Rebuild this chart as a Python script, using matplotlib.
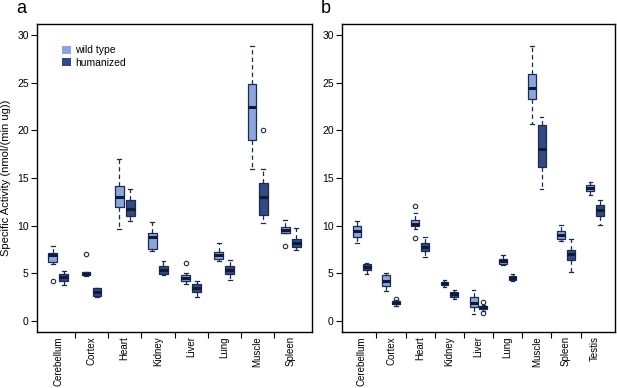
import matplotlib
matplotlib.use("Agg")
import matplotlib.pyplot as plt
from matplotlib.patches import Patch

plt.rcParams["font.family"] = ["Liberation Sans", "DejaVu Sans"]

# box stats: [whisker low, q1, median, q3, whisker high]
tissues_a = ["Cerebellum", "Cortex", "Heart", "Kidney", "Liver", "Lung", "Muscle", "Spleen"]
wild_a = [
    [6.0, 6.12, 6.9, 7.15, 7.8],
    [4.7, 4.75, 4.95, 5.1, 5.15],
    [9.6, 11.9, 13.0, 14.2, 16.95],
    [7.3, 7.5, 8.75, 9.2, 10.35],
    [3.9, 4.2, 4.47, 4.75, 5.0],
    [6.27, 6.44, 6.86, 7.22, 8.15],
    [15.95, 19.0, 22.5, 24.9, 28.9],
    [9.2, 9.26, 9.57, 9.85, 10.55],
]
wild_a_out = [[4.15], [7.0], [], [], [6.1], [], [], [7.8]]
human_a = [
    [3.7, 4.15, 4.58, 4.93, 5.17],
    [2.5, 2.57, 2.98, 3.41, 3.45],
    [10.5, 11.0, 11.76, 12.64, 13.8],
    [4.75, 4.93, 5.35, 5.77, 6.27],
    [2.5, 3.0, 3.48, 3.87, 4.15],
    [4.3, 4.86, 5.35, 5.7, 6.34],
    [10.3, 11.1, 13.0, 14.5, 15.95],
    [7.4, 7.74, 8.2, 8.62, 9.75],
]
human_a_out = [[], [], [], [], [], [], [20.0], []]

tissues_b = ["Cerebellum", "Cortex", "Heart", "Kidney", "Liver", "Lung", "Muscle", "Spleen", "Testis"]
wild_b = [
    [8.17, 8.82, 9.4, 9.98, 10.5],
    [3.13, 3.59, 4.19, 4.82, 5.03],
    [9.68, 9.9, 10.2, 10.56, 11.27],
    [3.55, 3.73, 3.94, 4.08, 4.22],
    [0.71, 1.45, 1.9, 2.46, 3.17],
    [5.8, 5.98, 6.27, 6.51, 6.94],
    [20.73, 23.3, 24.5, 25.98, 28.86],
    [8.38, 8.55, 8.98, 9.4, 10.07],
    [13.23, 13.59, 13.97, 14.29, 14.54],
]
wild_b_out = [[], [], [12.04, 8.73], [], [], [], [], [], []]
human_b = [
    [4.93, 5.31, 5.63, 5.95, 6.09],
    [1.51, 1.72, 1.9, 2.04, 2.18],
    [6.69, 7.32, 7.78, 8.2, 8.8],
    [2.25, 2.53, 2.82, 3.03, 3.2],
    [1.06, 1.23, 1.41, 1.55, 1.69],
    [4.12, 4.3, 4.5, 4.72, 4.93],
    [13.83, 16.12, 18.06, 20.56, 21.4],
    [5.1, 6.41, 6.97, 7.39, 8.55],
    [10.1, 11.01, 11.62, 12.14, 12.67],
]
human_b_out = [[], [2.32], [], [], [1.94, 0.84], [], [], [], []]

LIGHT = "#8ca5db"
DARK = "#34497f"
EDGE = "#1c2a4f"
MEDIAN = "#0d1a38"
FS = 7


def to_stats(values, outliers):

    stats = []

    for v, out in zip(values, outliers):
        stats.append({
            "whislo": v[0],
            "q1": v[1],
            "med": v[2],
            "q3": v[3],
            "whishi": v[4],
            "fliers": out,
        })

    return stats


def draw_panel(ax, tissues, wild, wild_out, human, human_out):

    n = len(tissues)

    wild_pos = [3 * i + 1 for i in range(n)]
    human_pos = [3 * i + 2 for i in range(n)]

    for stats, pos, color in [
        (to_stats(wild, wild_out), wild_pos, LIGHT),
        (to_stats(human, human_out), human_pos, DARK),
    ]:
        ax.bxp(
            stats,
            positions=pos,
            widths=0.8,
            patch_artist=True,
            boxprops=dict(facecolor=color, edgecolor=EDGE, linewidth=0.9),
            medianprops=dict(color=MEDIAN, linewidth=2.2, solid_capstyle="butt"),
            whiskerprops=dict(color=EDGE, linewidth=0.9, linestyle=(0, (3.5, 2.5))),
            capprops=dict(color=EDGE, linewidth=0.9),
            capwidths=0.35,
            flierprops=dict(marker="o", markersize=3.2, markerfacecolor="none",
                            markeredgecolor=EDGE, markeredgewidth=0.8),
        )

    last = 3 * n - 1
    pad = last * 0.04
    ax.set_xlim(0.5 - pad, last + 0.5 + pad)
    ax.set_ylim(-1.2, 31.2)

    ax.set_yticks([0, 5, 10, 15, 20, 25, 30])
    ax.set_xticks([3 * i + 1.5 for i in range(n)])
    ax.set_xticklabels(tissues, rotation=90)
    ax.set_xticks([3 * i + 3 for i in range(n - 1)], minor=True)

    ax.tick_params(axis="x", which="major", length=0, pad=3, labelsize=FS)
    ax.tick_params(axis="x", which="minor", length=4, width=0.8)
    ax.tick_params(axis="y", length=4, width=0.8, labelsize=FS + 0.5, pad=2)

    for side in ax.spines.values():
        side.set_linewidth(1.0)


fig = plt.figure(figsize=(6.17, 3.88), dpi=100)

ax_a = fig.add_axes([0.060, 0.1443, 0.4457, 0.7938])
ax_b = fig.add_axes([0.5543, 0.1443, 0.4425, 0.7938])

draw_panel(ax_a, tissues_a, wild_a, wild_a_out, human_a, human_a_out)
draw_panel(ax_b, tissues_b, wild_b, wild_b_out, human_b, human_b_out)

fig.text(16 / 617, 1 - 13 / 388, "a", fontsize=13, va="baseline", ha="left")
fig.text(321 / 617, 1 - 13 / 388, "b", fontsize=13, va="baseline", ha="left")

ax_a.set_ylabel("Specific Activity (nmol/(min ug))", fontsize=8)
ax_a.yaxis.set_label_coords(-0.094, 0.5)

ax_a.legend(
    handles=[
        Patch(facecolor=LIGHT, edgecolor="none", label="wild type"),
        Patch(facecolor=DARK, edgecolor="none", label="humanized"),
    ],
    loc="upper left",
    bbox_to_anchor=(0.065, 0.955),
    frameon=False,
    fontsize=FS + 0.5,
    handlelength=0.8,
    handleheight=0.8,
    handletextpad=0.45,
    labelspacing=0.25,
    borderpad=0.2,
)

fig.savefig("out.png", dpi=100)
